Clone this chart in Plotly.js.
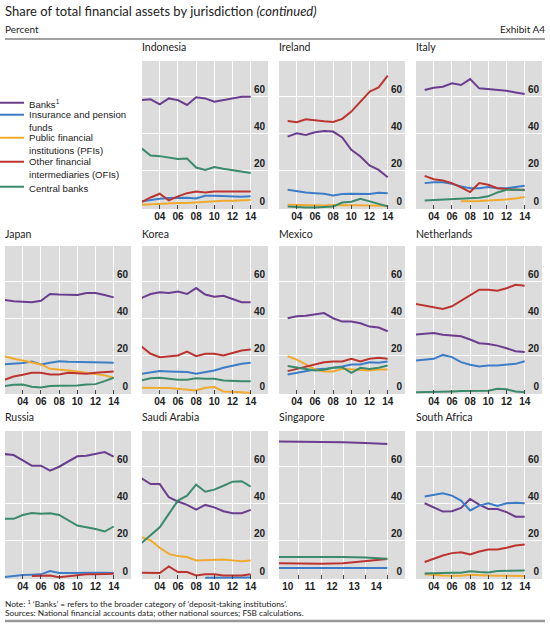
<!DOCTYPE html>
<html><head><meta charset="utf-8">
<script src="https://cdn.plot.ly/plotly-3.0.1.min.js"></script>
<style>body{margin:0;padding:0;background:#fff}#chart{width:550px;height:625px}</style>
</head><body><div id="chart"></div>
<script>
// ---------------- DATA ----------------
const years02 = [2002,2003,2004,2005,2006,2007,2008,2009,2010,2011,2012,2013,2014];
const years03 = [2003,2004,2005,2006,2007,2008,2009,2010,2011,2012,2013,2014];
const sgDates = [2009.6,2010.5,2011.5,2012.5,2013.5,2014.5];
const seriesNames = ['Banks<sup>1</sup>','Insurance and pension<br>funds','Public financial<br>institutions (PFIs)','Other financial<br>intermediaries (OFIs)','Central banks'];
const xTickVals = [2004,2006,2008,2010,2012,2014];
const xTickText = ['04','06','08','10','12','14'];
const sgTickVals = [2010,2011,2012,2013,2014];
const sgTickText = ['10','11','12','13','14'];
const yTickVals = [0,20,40,60];

const idnBanks = [58.0,58.4,55.7,58.9,58.0,55.4,59.5,58.9,57.1,58.0,58.6,59.8,59.8];
const idnIns   = [3.6,4.5,5.0,5.4,5.5,5.5,5.2,6.6,6.6,6.3,6.3,6.1,6.3];
const idnPfi   = [1.8,2.1,2.3,2.5,2.7,2.7,3.0,3.6,3.8,3.9,3.9,4.1,4.3];
const idnOfi   = [3.2,5.7,7.7,4.1,6.3,8.0,8.9,8.4,8.9,8.9,8.9,8.9,8.9];
const idnCb    = [32.1,28.2,27.9,27.3,26.3,26.6,21.8,20.5,22.0,21.1,20.2,19.3,18.8];

const ireBanks = [38.4,40.2,39.3,40.7,41.4,41.1,37.9,31.3,27.7,22.9,20.5,16.6];
const ireIns   = [9.8,8.9,8.4,8.0,7.7,6.8,7.5,7.7,7.5,7.5,8.2,8.0];
const irePfi   = [1.8,1.6,1.4,1.4,1.4,1.6,1.6,1.6,1.4,1.4,1.4,1.3];
const ireOfi   = [46.8,46.1,47.7,47.0,46.6,46.3,47.9,51.8,57.1,62.5,64.8,71.1];
const ireCb    = [0.9,0.5,0.3,0.3,0.5,0.9,3.0,3.4,5.0,3.6,2.0,0.9];

const itaBanks = [63.4,64.6,65.2,67.0,66.1,69.3,64.3,63.9,63.4,63.0,62.1,61.3];
const itaIns   = [13.4,13.9,13.9,13.0,11.6,10.7,10.7,11.3,10.7,10.7,11.3,12.0];
const itaPfi   = [null,null,null,null,3.6,3.6,3.8,4.1,4.3,4.6,5.2,5.9];
const itaOfi   = [17.3,15.5,14.8,13.4,11.1,8.6,13.4,12.5,10.7,10.2,9.8,9.8];
const itaCb    = [4.1,4.3,4.6,5.0,5.2,5.4,5.5,6.3,8.4,9.8,10.0,9.5];

const jpnBanks = [50.0,49.3,49.1,48.8,49.6,53.2,52.9,52.9,52.7,53.8,53.8,52.7,51.4];
const jpnIns   = [15.4,15.7,16.1,17.0,15.4,16.3,17.1,16.8,16.8,16.8,16.6,16.4,16.3];
const jpnPfi   = [19.8,18.4,17.5,16.6,15.4,13.0,12.7,12.1,11.6,10.9,10.4,9.5,8.2];
const jpnOfi   = [7.1,8.9,9.8,10.9,10.9,10.0,10.0,10.9,10.7,10.4,10.9,11.3,11.6];
const jpnCb    = [3.8,4.5,4.6,3.4,3.0,3.8,3.9,3.9,4.1,4.6,4.8,6.4,8.2];

const korBanks = [51.1,53.2,54.1,53.8,54.5,53.2,56.4,52.9,51.8,52.3,50.5,48.8,48.8];
const korIns   = [10.4,11.3,11.8,11.6,11.4,11.3,10.4,11.3,12.1,13.6,14.8,15.7,16.3];
const korPfi   = [2.9,2.9,2.7,2.7,2.3,2.0,1.4,2.9,3.2,0.9,0.9,0.5,0.0];
const korOfi   = [25.0,21.1,19.3,19.8,20.2,22.3,19.8,21.1,21.1,20.2,21.6,22.9,23.4];
const korCb    = [6.8,8.0,8.2,7.7,7.1,7.1,8.0,7.7,7.7,6.8,6.4,6.3,6.3];

const mexBanks = [40.2,41.3,41.6,42.1,43.0,40.2,38.4,38.4,37.5,35.7,35.2,33.2];
const mexIns   = [10.0,10.9,11.8,12.7,13.0,13.6,14.3,15.4,15.4,16.6,16.3,17.0];
const mexPfi   = [19.8,18.0,15.4,12.7,11.6,11.6,13.0,12.7,12.7,12.1,12.7,12.7];
const mexOfi   = [11.8,13.0,14.3,15.7,16.6,17.0,17.0,18.4,17.0,18.4,18.9,18.4];
const mexCb    = [14.5,13.6,12.7,12.1,12.5,13.6,13.9,10.9,13.6,13.0,13.6,14.8];

const nldBanks = [31.4,31.8,32.3,31.3,30.9,30.5,28.8,26.8,26.4,25.5,24.1,22.5,22.0];
const nldIns   = [17.5,18.0,18.4,20.5,19.3,16.6,15.2,14.3,14.8,14.8,15.4,15.7,17.1];
const nldPfi   = [];
const nldOfi   = [47.9,47.0,46.1,45.2,46.6,49.6,52.7,55.5,55.5,55.0,56.3,58.2,57.7];
const nldCb    = [0.5,0.5,0.5,0.7,0.9,1.1,1.1,1.1,1.3,2.3,2.0,0.9,0.5];

const rusBanks = [66.6,66.1,63.2,60.4,60.4,57.7,59.8,62.7,65.4,65.7,66.6,67.7,65.2];
const rusIns   = [0.5,1.1,1.6,1.8,2.0,3.8,2.7,2.7,2.9,2.9,2.9,2.9,2.7];
const rusPfi   = [];
const rusOfi   = [null,null,null,1.1,1.1,1.4,0.5,1.1,1.6,2.0,2.1,2.3,2.3];
const rusCb    = [31.8,31.8,33.9,35.0,34.5,34.8,33.9,30.9,28.2,27.3,26.4,25.0,27.7];

const sauBanks = [53.6,50.5,50.5,43.4,41.1,39.3,36.8,39.3,38.0,35.9,34.8,34.8,36.6];
const sauIns   = [null,null,null,null,null,null,null,0.2,0.2,0.3,0.3,0.3,0.3];
const sauPfi   = [22.0,20.2,16.3,13.0,11.8,11.3,9.5,9.6,9.6,10.0,9.5,9.1,9.5];
const sauOfi   = [2.9,2.9,2.7,6.3,3.2,3.2,1.4,2.0,2.0,1.4,1.4,1.4,2.0];
const sauCb    = [18.8,22.9,27.3,34.5,41.6,44.3,50.2,46.4,47.5,49.6,51.8,52.0,49.1];

const sgpBanks = [73.4,73.4,73.4,73.0,72.5,72.0];
const sgpIns   = [5.4,5.4,5.6,5.6,5.4,5.4];
const sgpPfi   = [];
const sgpOfi   = [8.0,7.7,7.7,8.0,8.9,10.2];
const sgpCb    = [11.3,11.4,11.4,11.3,11.1,10.4];

const zafBanks = [40.2,38.0,35.7,35.9,37.7,42.5,39.5,37.1,37.1,35.4,33.0,33.0];
const zafIns   = [43.8,44.6,45.5,44.3,41.6,36.3,38.9,40.2,38.8,40.2,40.5,40.2];
const zafPfi   = [2.0,1.6,1.4,1.3,1.3,1.8,1.4,1.4,1.3,1.3,1.1,1.1];
const zafOfi   = [8.6,10.4,12.1,13.4,13.9,12.7,14.3,15.4,15.4,16.3,17.5,18.0];
const zafCb    = [2.5,2.7,2.7,2.9,2.9,3.6,3.2,3.0,3.8,3.8,3.9,4.1];

// ---------------- TABLE ----------------
const panels = [
  {title:'Indonesia',    row:0,col:1,x:years02,s:[idnBanks,idnIns,idnPfi,idnOfi,idnCb]},
  {title:'Ireland',      row:0,col:2,x:years03,s:[ireBanks,ireIns,irePfi,ireOfi,ireCb]},
  {title:'Italy',        row:0,col:3,x:years03,s:[itaBanks,itaIns,itaPfi,itaOfi,itaCb]},
  {title:'Japan',        row:1,col:0,x:years02,s:[jpnBanks,jpnIns,jpnPfi,jpnOfi,jpnCb]},
  {title:'Korea',        row:1,col:1,x:years02,s:[korBanks,korIns,korPfi,korOfi,korCb]},
  {title:'Mexico',       row:1,col:2,x:years03,s:[mexBanks,mexIns,mexPfi,mexOfi,mexCb]},
  {title:'Netherlands',  row:1,col:3,x:years02,s:[nldBanks,nldIns,nldPfi,nldOfi,nldCb]},
  {title:'Russia',       row:2,col:0,x:years02,s:[rusBanks,rusIns,rusPfi,rusOfi,rusCb]},
  {title:'Saudi Arabia', row:2,col:1,x:years02,s:[sauBanks,sauIns,sauPfi,sauOfi,sauCb]},
  {title:'Singapore',    row:2,col:2,x:sgDates,s:[sgpBanks,sgpIns,sgpPfi,sgpOfi,sgpCb],sg:true},
  {title:'South Africa', row:2,col:3,x:years03,s:[zafBanks,zafIns,zafPfi,zafOfi,zafCb]}
];

// ---------------- STYLE ----------------
const W = 550, H = 625;
const colors = ['#6B3D8F','#3D7CC7','#F0AA2E','#BC3430','#3A8A6B'];
const colLeft = [5,142,279,416], panelW = 126;
const rowTop = [61,246,431], panelH = 148;
const titleY = [47,234,417];
const legendTop = [90,102,125,149,174];
const px = v => v / W, py = v => 1 - v / H;
const tickFont = {family:'Liberation Sans, Arial, sans-serif', size:10, color:'#222', weight:'bold'};
const textFont = 'Lato, Calibri, sans-serif';

const data = [];
const layout = {
  width:W, height:H, margin:{l:0,r:0,t:0,b:0,autoexpand:false},
  paper_bgcolor:'#fff', plot_bgcolor:'#DCDCDC',
  showlegend:true,
  annotations:[], shapes:[]
};
const legendIds = ['legend','legend2','legend3','legend4','legend5'];
legendIds.forEach((id,j) => {
  layout[id] = {x:px(-11), y:py(legendTop[j]), xanchor:'left', yanchor:'top', bgcolor:'rgba(0,0,0,0)',
    font:{family:'Liberation Sans, Arial, sans-serif', size:9.6, color:'#222'},
    tracegroupgap:0, valign:'top', itemwidth:30};
});

panels.forEach((p,i) => {
  const k = i + 1;
  const xa = 'xaxis' + k, ya = 'yaxis' + k;
  const xl = colLeft[p.col], yt = rowTop[p.row];
  p.s.forEach((vals,j) => {
    if (!vals.length) return;
    data.push({type:'scatter', mode:'lines', x:p.x, y:vals, name:seriesNames[j],
      legend:legendIds[j], legendgroup:'g'+j, showlegend:(i===0), xaxis:'x'+k, yaxis:'y'+k,
      line:{color:colors[j], width:2}, connectgaps:false, hoverinfo:'skip'});
  });
  const xaxis = {domain:[px(xl), px(xl+panelW)], anchor:'y'+k, fixedrange:true,
    showline:false, zeroline:false, tickfont:tickFont, automargin:false,
    gridcolor:'#FFFFFF', gridwidth:1};
  if (p.sg) {
    Object.assign(xaxis, {range:[2009.6,2015.3], tickvals:sgTickVals, ticktext:sgTickText,
      showgrid:false, ticks:'',
      minor:{tickvals:[2010.5,2011.5,2012.5,2013.5,2014.5], showgrid:true, gridcolor:'#FFFFFF',
             gridwidth:1, ticks:'inside', ticklen:4, tickcolor:'#444', tickwidth:1}});
  } else {
    Object.assign(xaxis, {range:[2002.05,2015.9], tickvals:xTickVals, ticktext:xTickText,
      showgrid:true, ticks:'inside', ticklen:4, tickcolor:'#444', tickwidth:1});
  }
  layout[xa] = xaxis;
  layout[ya] = {domain:[py(yt+panelH), py(yt)], anchor:'x'+k, side:'right', fixedrange:true,
    range:[-0.5,79], tickvals:yTickVals, ticklabelposition:'inside top', automargin:false,
    showgrid:true, gridcolor:'#FFFFFF', gridwidth:1, zeroline:false, showline:false,
    ticks:'', tickfont:tickFont};
  layout.annotations.push({xref:'paper', yref:'paper', x:px(xl-2), y:py(titleY[p.row]),
    xanchor:'left', yanchor:'middle', showarrow:false, text:p.title,
    font:{family:textFont, size:10.5, color:'#222'}});
});

// header / footer
layout.annotations.push(
  {xref:'paper',yref:'paper',x:px(3),y:py(11),xanchor:'left',yanchor:'middle',showarrow:false,
   text:'Share of total financial assets by jurisdiction <i>(continued)</i>',
   font:{family:textFont,size:13,color:'#222'}},
  {xref:'paper',yref:'paper',x:px(3),y:py(29),xanchor:'left',yanchor:'middle',showarrow:false,
   text:'Percent', font:{family:textFont,size:10,color:'#222'}},
  {xref:'paper',yref:'paper',x:px(547),y:py(29),xanchor:'right',yanchor:'middle',showarrow:false,
   text:'Exhibit A4', font:{family:textFont,size:10,color:'#222'}},
  {xref:'paper',yref:'paper',x:px(3),y:py(603),xanchor:'left',yanchor:'middle',showarrow:false,
   text:'Note: <sup>1</sup> ‘Banks’ = refers to the broader category of ‘deposit-taking institutions’.',
   font:{family:textFont,size:8.3,color:'#222'}},
  {xref:'paper',yref:'paper',x:px(3),y:py(613),xanchor:'left',yanchor:'middle',showarrow:false,
   text:'Sources: National financial accounts data; other national sources; FSB calculations.',
   font:{family:textFont,size:8.3,color:'#222'}}
);
layout.shapes.push(
  {type:'line',xref:'paper',yref:'paper',x0:px(5),x1:px(545),y0:py(39),y1:py(39),line:{color:'#444',width:1}},
  {type:'line',xref:'paper',yref:'paper',x0:px(5),x1:px(545),y0:py(621),y1:py(621),line:{color:'#999',width:2.5}}
);

Plotly.newPlot('chart', data, layout, {displayModeBar:false, staticPlot:true});
</script></body></html>
